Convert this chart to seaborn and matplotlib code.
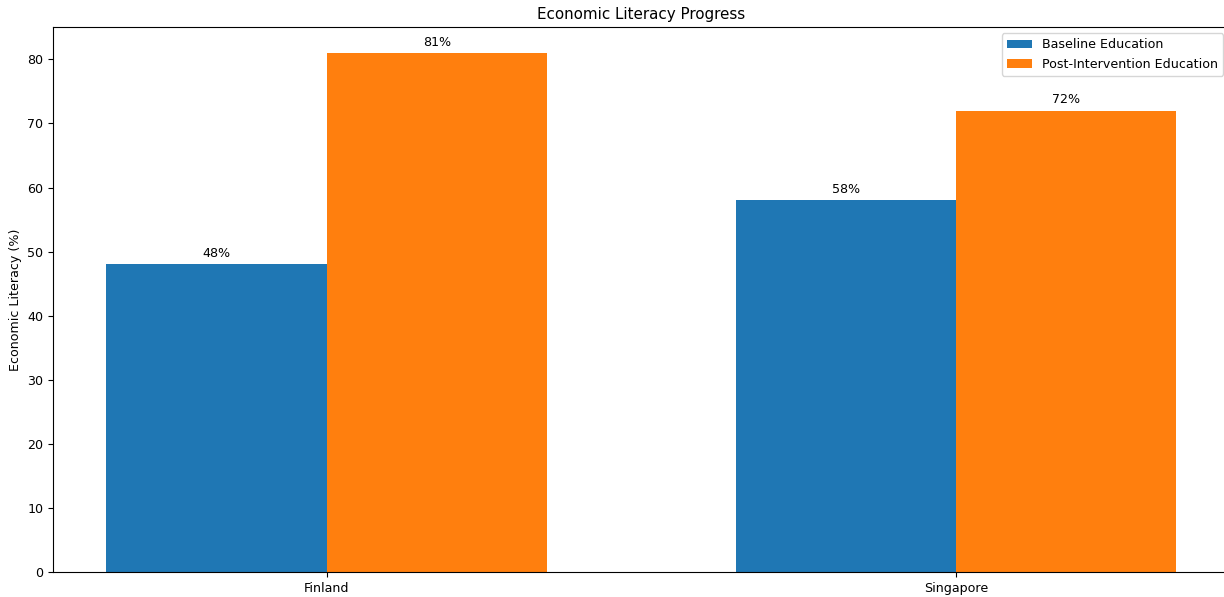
import pandas as pd
import matplotlib
matplotlib.use("Agg")
import matplotlib.pyplot as plt
import seaborn as sns

# --- data ---
countries = ["Finland", "Singapore"]
baseline = [48, 58]
post_intervention = [81, 72]
series_names = ["Baseline Education", "Post-Intervention Education"]

df = pd.DataFrame({
    "Country": countries * 2,
    "Group": [series_names[0]] * len(countries) + [series_names[1]] * len(countries),
    "Literacy": baseline + post_intervention,
})

# reference text is a touch smaller than matplotlib's defaults
plt.rcParams["font.size"] = 9.1

fig = plt.figure(figsize=(12.24, 5.97), dpi=100)
# the reference is cropped slightly on the right, so the axes runs past the edge
ax = fig.add_axes([53 / 1224, 25 / 597, (1229.6 - 53) / 1224, (572 - 27) / 597])

sns.barplot(data=df, x="Country", y="Literacy", hue="Group",
            palette=["#1f77b4", "#ff7f0e"], width=0.7, saturation=1,
            errorbar=None, ax=ax)

for container in ax.containers:
    ax.bar_label(container, fmt="%d%%", padding=3)

# matplotlib's default 5% margins around the bars
ax.set_xlim(-0.435, len(countries) - 1 + 0.435)
ax.set_title("Economic Literacy Progress")
ax.set_xlabel("")
ax.set_ylabel("Economic Literacy (%)")
ax.legend(loc="upper right")

fig.savefig("out.png", dpi=100)
